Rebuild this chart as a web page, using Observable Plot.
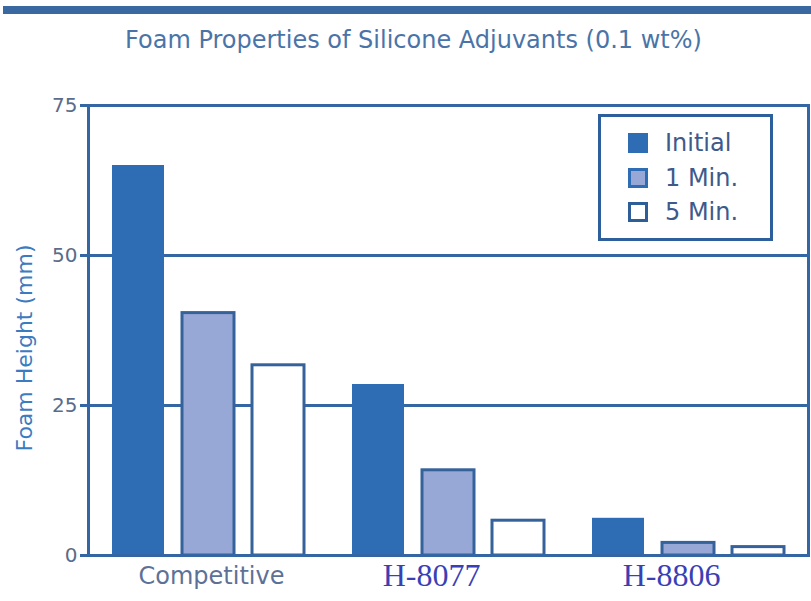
<!DOCTYPE html>
<html><head><meta charset="utf-8">
<script src="https://cdn.jsdelivr.net/npm/d3@7"></script>
<script src="https://cdn.jsdelivr.net/npm/@observablehq/plot@0.6"></script>
<style>
body{margin:0;background:#fff;font-family:"DejaVu Sans",sans-serif;}
#wrap{position:relative;width:811px;height:601px;overflow:hidden;background:#fff;}
#topbar{position:absolute;left:3px;right:0;top:6px;height:8px;background:#3a68a0;}
#title{position:absolute;left:8px;width:811px;top:28px;text-align:center;font-size:24px;line-height:24px;color:#4a74a8;white-space:nowrap;}
#ylabel{position:absolute;left:25px;top:348px;transform:translate(-50%,-50%) rotate(-90deg);font-size:22px;line-height:22px;color:#3b7bbf;white-space:nowrap;}
#chart{position:absolute;left:0;top:80px;}
#legend{position:absolute;left:598px;top:114px;width:175px;height:127px;box-sizing:border-box;border:3px solid #2d5f9c;background:#fff;}
.row{position:absolute;left:27px;height:21px;display:flex;align-items:center;}
.sw{width:20px;height:20px;box-sizing:border-box;margin-right:17px;}
.lt{font-size:24px;line-height:24px;color:#3e5a8b;white-space:nowrap;}
</style></head><body>
<div id="wrap">
  <div id="topbar"></div>
  <div id="title">Foam Properties of Silicone Adjuvants (0.1 wt%)</div>
  <div id="ylabel">Foam Height (mm)</div>
  <div id="chart"></div>
  <div id="legend"></div>
</div>
<script>
const groups = ["Competitive", "H-8077", "H-8806"];
const seriesNames = ["Initial", "1 Min.", "5 Min."];
const initialValues = [65, 28.5, 6.2];
const oneMinValues = [40.4, 14.2, 2.1];
const fiveMinValues = [31.7, 5.8, 1.4];
const yTicks = [0, 25, 50, 75];
const gridValues = [25, 50];
const sansLabels = ["Competitive"];
const serifLabels = ["H-8077", "H-8806"];

const seriesValues = [initialValues, oneMinValues, fiveMinValues];
const seriesStyles = [
  {fill: "#2e6cb4", stroke: "none"},
  {fill: "#97a8d6", stroke: "#35629b", strokeWidth: 3},
  {fill: "#ffffff", stroke: "#35629b", strokeWidth: 3}
];
const swatchStyles = [
  "background:#2e6cb4;",
  "background:#97a8d6;border:3px solid #2e6cb4;",
  "background:#fff;border:3px solid #2d5e98;"
];
const rows = seriesNames.flatMap((s, i) => groups.map((g, j) => ({group: g, series: s, value: seriesValues[i][j]})));
const lineColor = "#3466a3";

const plot = Plot.plot({
  width: 811, height: 521,
  marginTop: 25, marginBottom: 46, marginLeft: 87, marginRight: 3,
  style: {fontFamily: "DejaVu Sans", background: "transparent", overflow: "visible"},
  fx: {domain: groups, padding: 0, label: null, axis: null},
  x: {domain: seriesNames, paddingInner: 0.26, paddingOuter: 0.33, axis: null},
  y: {domain: [0, 75], label: null},
  marks: [
    Plot.ruleY(gridValues, {stroke: lineColor, strokeWidth: 3}),
    ...seriesNames.map((s, i) => Plot.barY(rows.filter(d => d.series === s), {fx: "group", x: "series", y: "value", ...seriesStyles[i]})),
    Plot.frame({facet: "super", stroke: lineColor, strokeWidth: 3}),
    Plot.axisY(yTicks, {label: null, tickSize: 8, tickPadding: 3, stroke: lineColor, strokeWidth: 3, fill: "#5b6b89", fontSize: 20}),
    Plot.text(sansLabels, {fx: d => d, text: d => d, frameAnchor: "bottom", lineAnchor: "top", dy: 11, dx: 3, fill: "#5d7196", fontSize: 24, fontFamily: "DejaVu Sans"}),
    Plot.text(serifLabels, {fx: d => d, text: d => d, frameAnchor: "bottom", lineAnchor: "top", dy: 8, dx: -17, fill: "#3b3fb5", fontSize: 32, fontFamily: "Liberation Serif"})
  ]
});
document.getElementById("chart").appendChild(plot);

const legend = document.getElementById("legend");
const rowTops = [15, 50, 84];
seriesNames.forEach((s, i) => {
  const r = document.createElement("div");
  r.className = "row";
  r.style.top = rowTops[i] + "px";
  r.innerHTML = `<div class="sw" style="${swatchStyles[i]}"></div><div class="lt">${s}</div>`;
  legend.appendChild(r);
});
</script>
</body></html>
